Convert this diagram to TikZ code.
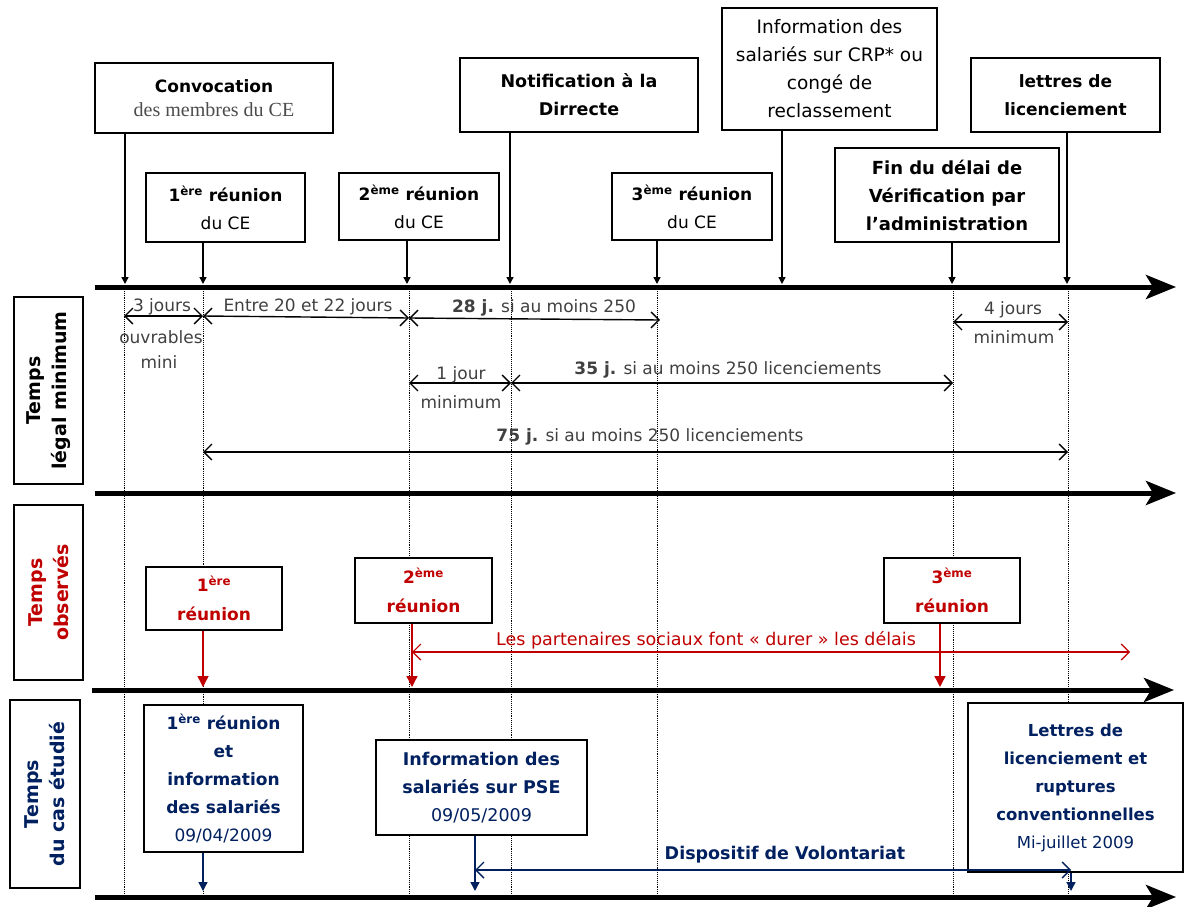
\documentclass[tikz,border=0pt]{standalone}
\usepackage{fontspec}
\setmainfont{DejaVu Sans}
\newfontfamily\romfont{Liberation Serif}
\usetikzlibrary{arrows.meta}
\definecolor{rouge}{RGB}{192,0,0}
\definecolor{bleu}{RGB}{0,32,96}
\definecolor{gristxt}{RGB}{64,64,64}
\newcommand{\supere}{\textsuperscript{ère}}
\newcommand{\supeme}{\textsuperscript{ème}}

\begin{document}
\begin{tikzpicture}[x=1pt,y=-1pt,
	boite/.style={draw=black,line width=1.4pt,fill=white,align=center,inner sep=1pt,font=\fontsize{17}{28}\selectfont},
	lat/.style={draw=black,line width=1.4pt,rotate=90,align=center,inner sep=1pt,font=\fontsize{19}{26}\selectfont\bfseries},
	axe/.style={line width=5pt,-{Stealth[length=30pt,width=24pt,inset=7pt]}},
	guide/.style={densely dotted,line width=0.9pt},
	fleche/.style={line width=1.4pt,-{Triangle[length=7pt,width=7pt]}},
	mesure/.style={line width=1.4pt,{Straight Barb[length=8pt,width=16pt]}-{Straight Barb[length=8pt,width=16pt]}},
	etiq/.style={text=gristxt,font=\fontsize{17}{24}\selectfont,inner sep=1pt,align=center}]
	
	\useasboundingbox (0,0) rectangle (1184,907);
	
	\coordinate (a1g) at (95,287);  \coordinate (a1d) at (1176,287);
	\coordinate (a2g) at (95,493);  \coordinate (a2d) at (1176,493);
	\coordinate (a3g) at (92,690);  \coordinate (a3d) at (1174,690);
	\coordinate (a4g) at (95,897);  \coordinate (a4d) at (1176,897);
	
	\foreach \x in {124,203,409,511,657,953,1068}
		\draw[guide] (\x,287) -- (\x,897);
	
	\draw[axe] (a1g) -- (a1d);
	\draw[axe] (a2g) -- (a2d);
	\draw[axe] (a3g) -- (a3d);
	\draw[axe] (a4g) -- (a4d);
	
	\node[boite,minimum width=238pt,minimum height=70pt] (conv) at (214,98)
		{\textbf{Convocation}\\[-4pt]{\romfont\fontsize{20}{24}\selectfont\color{black!70}des membres du CE}};
	\node[boite,font=\fontsize{17.5}{28}\selectfont,minimum width=238pt,minimum height=74pt] (notif) at (579,95)
		{\textbf{Notification à la}\\\textbf{Dirrecte}};
	\node[boite,font=\fontsize{18.5}{28}\selectfont,minimum width=215pt,minimum height=122pt] (crp) at (829.5,69)
		{Information des\\salariés sur CRP* ou\\congé de\\reclassement};
	\node[boite,minimum width=189pt,minimum height=74pt] (lettres) at (1065.5,95)
		{\textbf{lettres de}\\\textbf{licenciement}};
	\node[boite,minimum width=159pt,minimum height=69pt] (r1) at (225.5,207.5)
		{\textbf{1\supere{} réunion}\\du CE};
	\node[boite,minimum width=160pt,minimum height=67pt] (r2) at (419,206.5)
		{\textbf{2\supeme{} réunion}\\du CE};
	\node[boite,minimum width=160pt,minimum height=67pt] (r3) at (692,206.5)
		{\textbf{3\supeme{} réunion}\\du CE};
	\node[boite,font=\fontsize{18}{28}\selectfont,minimum width=224pt,minimum height=94pt] (fin) at (947,195)
		{\textbf{Fin du délai de}\\\textbf{Vérification par}\\\textbf{l'administration}};
	
	\coordinate (p1) at (125,284);
	\coordinate (p2) at (203,284);
	\coordinate (p3) at (407,284);
	\coordinate (p4) at (510,284);
	\coordinate (p5) at (657,284);
	\coordinate (p6) at (782,284);
	\coordinate (p7) at (952,284);
	\coordinate (p8) at (1067,284);
	\draw[fleche] (conv.south -| p1) -- (p1);
	\draw[fleche] (r1.south -| p2) -- (p2);
	\draw[fleche] (r2.south -| p3) -- (p3);
	\draw[fleche] (notif.south -| p4) -- (p4);
	\draw[fleche] (r3.south -| p5) -- (p5);
	\draw[fleche] (crp.south -| p6) -- (p6);
	\draw[fleche] (fin.south -| p7) -- (p7);
	\draw[fleche] (lettres.south -| p8) -- (p8);
	
	\node[lat,minimum width=187pt,minimum height=69pt] (leg) at (48.5,390.5) {Temps\\légal minimum};
	\node[lat,minimum width=175pt,minimum height=69pt,text=rouge] (obs) at (48.5,592.5) {Temps\\observés};
	\node[lat,minimum width=188pt,minimum height=70pt,text=bleu] (cas) at (45,794) {Temps\\du cas étudié};
	
	\path (124,316) coordinate (m1) (203,316) coordinate (m2) (409,318) coordinate (m3)
		(660,320) coordinate (m4) (511,383) coordinate (m5) (953,383) coordinate (m6)
		(203,452) coordinate (m7) (1068,452) coordinate (m8) (953,322) coordinate (m9)
		(1068,322) coordinate (m10) (409,383) coordinate (m11);
	\draw[mesure] (m1) -- (m2);
	\draw[mesure] (m2) -- (m3);
	\draw[mesure] (m3) -- (m4);
	\draw[mesure] (m11) -- (m5);
	\draw[mesure] (m5) -- (m6);
	\draw[mesure] (m7) -- (m8);
	\draw[mesure] (m9) -- (m10);
	\node[etiq] (t1) at (162,307) {3 jours};
	\node[etiq] (t2) at (161,337) {ouvrables};
	\node[etiq] (t3) at (159,362) {mini};
	\node[etiq] (t4) at (308,307) {Entre 20 et 22 jours};
	\node[etiq] (t5) at (544,308) {\textbf{28 j.} si au moins 250};
	\node[etiq] (t6) at (461,375) {1 jour};
	\node[etiq] (t7) at (461,402) {minimum};
	\node[etiq] (t8) at (728,370) {\textbf{35 j.} si au moins 250 licenciements};
	\node[etiq] (t9) at (650,437) {\textbf{75 j.} si au moins 250 licenciements};
	\node[etiq] (t10) at (1013,310) {4 jours};
	\node[etiq] (t11) at (1014,337) {minimum};
	
	\node[boite,text=rouge,font=\fontsize{17}{29}\selectfont\bfseries,minimum width=136pt,minimum height=63pt] (o1) at (214,598.5)
		{1\supere\\réunion};
	\node[boite,text=rouge,font=\fontsize{17}{29}\selectfont\bfseries,minimum width=137pt,minimum height=65pt] (o2) at (423.5,590.5)
		{2\supeme\\réunion};
	\node[boite,text=rouge,font=\fontsize{17}{29}\selectfont\bfseries,minimum width=136pt,minimum height=65pt] (o3) at (952,590.5)
		{3\supeme\\réunion};
	\coordinate (q1) at (203,687);
	\coordinate (q2) at (412,687);
	\coordinate (q3) at (940,687);
	\draw[rouge,line width=1.4pt,-{Triangle[length=11pt,width=11pt]}] (o1.south -| q1) -- (q1);
	\draw[rouge,line width=1.4pt,-{Triangle[length=11pt,width=11pt]}] (o2.south -| q2) -- (q2);
	\draw[rouge,line width=1.4pt,-{Triangle[length=11pt,width=11pt]}] (o3.south -| q3) -- (q3);
	\coordinate (dg) at (412,652);
	\coordinate (dd) at (1130,652);
	\draw[rouge,line width=1.2pt,{Straight Barb[length=8pt,width=16pt]}-{Straight Barb[length=8pt,width=16pt]}] (dg) -- (dd);
	\node[text=rouge,font=\fontsize{17.5}{20}\selectfont,inner sep=1pt] (dur) at (706,640) {Les partenaires sociaux font « durer » les délais};
	
	\node[boite,text=bleu,minimum width=159pt,minimum height=147pt] (e1) at (223.5,778.5)
		{\textbf{1\supere{} réunion}\\\textbf{et}\\\textbf{information}\\\textbf{des salariés}\\09/04/2009};
	\node[boite,text=bleu,font=\fontsize{17.5}{28}\selectfont,minimum width=211pt,minimum height=95pt] (e2) at (481.5,787.5)
		{\textbf{Information des}\\\textbf{salariés sur PSE}\\09/05/2009};
	\node[boite,text=bleu,font=\fontsize{16.5}{28}\selectfont,minimum width=215pt,minimum height=169pt] (e3) at (1075.5,787.5)
		{\textbf{Lettres de}\\\textbf{licenciement et}\\\textbf{ruptures}\\\textbf{conventionnelles}\\Mi-juillet 2009};
	\coordinate (s1) at (203,891);
	\coordinate (s2) at (475,891);
	\coordinate (s3) at (1071,891);
	\draw[bleu,line width=1.4pt,-{Triangle[length=9pt,width=9pt]}] (e1.south -| s1) -- (s1);
	\draw[bleu,line width=1.4pt,-{Triangle[length=9pt,width=9pt]}] (e2.south -| s2) -- (s2);
	\draw[bleu,line width=1.4pt,-{Triangle[length=9pt,width=9pt]}] (e3.south -| s3) -- (s3);
	\coordinate (vg) at (475,870);
	\coordinate (vd) at (1071,870);
	\draw[bleu,line width=1.4pt,{Straight Barb[length=8pt,width=16pt]}-{Straight Barb[length=8pt,width=16pt]}] (vg) -- (vd);
	\node[text=bleu,font=\fontsize{17.5}{20}\selectfont\bfseries,inner sep=1pt] (vol) at (785,855) {Dispositif de Volontariat};
\end{tikzpicture}
\end{document}
